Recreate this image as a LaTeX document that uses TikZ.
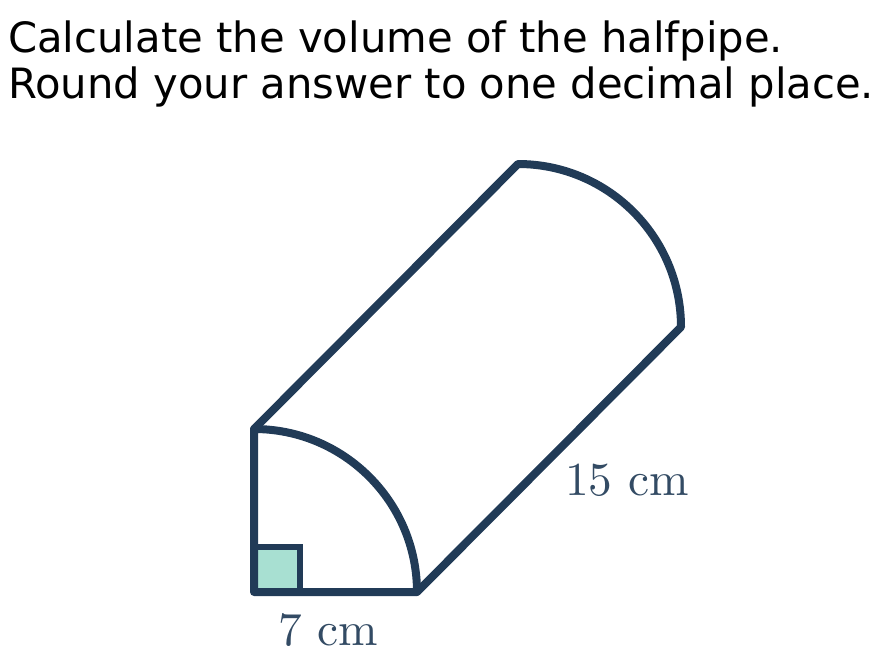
\documentclass[tikz,border=0pt]{standalone}
\usepackage{fontspec}
\newfontfamily\djv{DejaVu Sans}
\font\lmten="[lmroman10-regular]" at 35.5pt
\definecolor{navy}{HTML}{213B57}
\definecolor{mint}{HTML}{A8E0D2}
\tikzset{edge/.style={draw=navy,line width=6pt,line join=round,line cap=round},
 tick/.style={draw=navy,line width=3.8pt,line join=miter},
 head/.style={font=\djv\fontsize{31.3pt}{31.3pt}\selectfont,anchor=base west,inner sep=0pt,text=black},
 dim/.style={font=\lmten,text=navy!92,inner sep=0pt,anchor=base}}
\begin{document}
\begin{tikzpicture}[x=0.75pt,y=-0.75pt]
\useasboundingbox (0,0) rectangle (878,662);
\node[head] (h1) at (8,52) {Calculate the volume of the halfpipe.};
\node[head] (h2) at (8,98) {Round your answer to one decimal place.};
\coordinate (a) at (254,429);
\coordinate (o) at (254,592);
\coordinate (b) at (417,592);
\coordinate (c) at (518,164);
\coordinate (d) at (681,327);
\fill[mint] (256,547) rectangle (299,590);
\draw[tick] (254,547) -- (300,547) -- (300,592);
\draw[edge] (b) -- (o) -- (a) arc[start angle=-90,end angle=0,radius=163];
\draw[edge] (a) -- (c) arc[start angle=-90,end angle=0,radius=163] -- (b);
\node[dim] (l7) at (328,645) {7 cm};
\node[dim] (l15) at (627,495) {15 cm};
\end{tikzpicture}
\end{document}
